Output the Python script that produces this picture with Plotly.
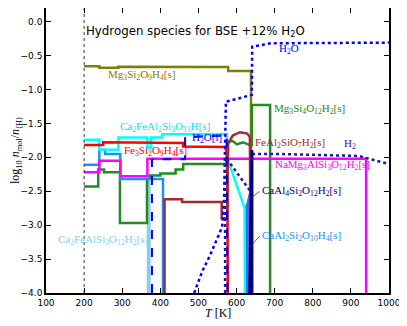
"""
Hydrogen species for BSE +12% H2O, log10 n_mol/n<H> against temperature
"""

import plotly.graph_objects as go

########## Data ##########
olive_T = [200, 240, 240, 290, 290, 365, 365, 578, 578, 638, 638]
olive_v = [-0.66, -0.66, -0.68, -0.68, -0.665, -0.665, -0.67, -0.67, -0.73, -0.73, -4.0]

cyan_T = [200, 240, 240, 290, 290, 366, 366, 376, 376, 405, 405, 574, 576, 621, 622]
cyan_v = [-1.74, -1.74, -1.89, -1.89, -1.71, -1.71, -1.86, -1.86, -1.71, -1.71, -1.66, -1.66, -2.02, -2.75, -4.0]

red_T = [200, 250, 250, 360, 360, 460, 460, 568, 574, 576, 577]
red_v = [-1.82, -1.82, -1.78, -1.78, -1.79, -1.79, -1.84, -1.85, -1.9, -2.3, -4.0]

green_T = [200, 237, 237, 252, 252, 294, 294, 365, 365, 372, 372, 400, 400, 440, 440, 460, 460,
           574, 577, 590, 601, 617, 635, 640, 640, 688, 688]
green_v = [-2.43, -2.43, -2.18, -2.18, -2.22, -2.22, -2.97, -2.97, -2.32, -2.32, -2.27, -2.27, -2.24,
           -2.24, -2.18, -2.18, -2.10, -2.10, -1.77, -1.76, -1.81, -1.78, -1.82, -1.82, -1.23, -1.23, -4.0]

magenta_T = [200, 240, 240, 295, 295, 366, 366, 940, 940]
magenta_v = [-2.22, -2.22, -2.05, -2.05, -2.28, -2.28, -2.02, -2.02, -4.0]

dodger_T = [200, 240, 240, 255, 255, 295, 295, 407, 407]
dodger_v = [-2.11, -2.11, -1.89, -1.89, -1.95, -1.95, -2.32, -2.32, -4.0]

sky_T = [367, 367, 372, 372]
sky_v = [-4.0, -2.36, -2.36, -4.0]

h2ol_T = [378, 378, 465, 465, 574, 576]
h2ol_v = [-4.0, -2.03, -2.03, -1.70, -1.68, -4.0]

brown_T = [411, 411, 457, 457, 561, 561, 575, 576, 578, 590, 609, 628, 635, 637]
brown_v = [-4.0, -2.62, -2.62, -2.66, -2.66, -2.9, -2.9, -2.3, -1.8, -1.68, -1.63, -1.65, -1.7, -4.0]

h2o_T = [489, 510, 530, 550, 562, 567, 570, 572, 600, 640, 641, 660, 690, 1000]
h2o_v = [-4.0, -3.68, -3.45, -3.2, -3.03, -2.7, -1.8, -1.18, -1.14, -1.08, -0.37, -0.35, -0.32, -0.31]

h2_T = [570, 570, 578, 600, 620, 635, 640, 640, 700, 800, 920, 960, 1000]
h2_v = [-4.0, -2.0, -2.05, -2.22, -2.38, -2.49, -2.49, -1.95, -1.95, -1.96, -1.98, -2.04, -2.1]

navy_T = [632, 636, 638, 643, 643]
navy_v = [-4.0, -2.6, -1.9, -1.9, -4.0]

royal_T = [622, 622, 628, 635, 635]
royal_v = [-4.0, -2.76, -2.66, -2.5, -4.0]

# label text, colour, position (T, value)
labels = [
    ("Mg<sub>3</sub>Si<sub>2</sub>O<sub>9</sub>H<sub>4</sub>[s]", "#808000", 257, -0.78),
    ("Ca<sub>2</sub>FeAl<sub>2</sub>Si<sub>3</sub>O<sub>13</sub>H[s]", "#00e8e8", 289, -1.55),
    ("H<sub>2</sub>O[l]", "#0000ff", 478, -1.72),
    ("Fe<sub>3</sub>Si<sub>2</sub>O<sub>9</sub>H<sub>4</sub>[s]", "#ff0000", 300, -1.91),
    ("Mg<sub>3</sub>Si<sub>4</sub>O<sub>12</sub>H<sub>2</sub>[s]", "#228b22", 693, -1.29),
    ("FeAl<sub>2</sub>SiO<sub>7</sub>H<sub>2</sub>[s]", "#a52a2a", 643, -1.79),
    ("H<sub>2</sub>", "#1a1aa8", 877, -1.80),
    ("NaMg<sub>3</sub>AlSi<sub>3</sub>O<sub>12</sub>H<sub>2</sub>[s]", "#ff00ff", 695, -2.12),
    ("H<sub>2</sub>O", "#0000ff", 706, -0.40),
    ("Ca<sub>2</sub>FeAlSi<sub>3</sub>O<sub>12</sub>H<sub>2</sub>[s]", "#87ceeb", 126, -3.22),
]
# labels with a short pointer line: text, colour, target (T, value), text offset in px
pointer_labels = [
    ("CaAl<sub>4</sub>Si<sub>2</sub>O<sub>12</sub>H<sub>2</sub>[s]", "#000080", 634, -2.62, 10, -8),
    ("CaAl<sub>2</sub>Si<sub>2</sub>O<sub>10</sub>H<sub>4</sub>[s]", "#1e90ff", 630, -3.35, 12, -13),
]
#################################################

fig = go.Figure()

def add_line(T, v, color, width=2.5, dash="solid", fill=None):
    fig.add_trace(go.Scatter(x=T, y=v, mode="lines", fill=fill, fillcolor=color,
                             line=dict(color=color, width=width, dash=dash),
                             hoverinfo="skip", showlegend=False))

add_line(royal_T, royal_v, "#4169e1", 1, fill="toself")
add_line(sky_T, sky_v, "#87ceeb", 2, fill="toself")
add_line(olive_T, olive_v, "#808000")
add_line(green_T, green_v, "#228b22")
add_line(dodger_T, dodger_v, "#1e90ff")
add_line(magenta_T, magenta_v, "#ff00ff")
add_line(cyan_T, cyan_v, "#00ffff")
add_line(red_T, red_v, "#ff0000")
add_line(brown_T, brown_v, "#a52a2a")
add_line(h2ol_T, h2ol_v, "#0000ff", 2, dash="dash")
add_line(h2o_T, h2o_v, "#0000ff", 2.5, dash="dot")
add_line(h2_T, h2_v, "#1a1aa8", 2.5, dash="dot")
add_line(navy_T, navy_v, "#000080", 1, fill="toself")

fig.add_vline(x=200, line=dict(color="black", width=0.8, dash="dot"))

SERIF = "Liberation Serif"
for text, color, T, v in labels:
    fig.add_annotation(x=T, y=v, text=text, showarrow=False, xanchor="left", yanchor="middle",
                       font=dict(family=SERIF, size=11, color=color))

for text, color, T, v, ax, ay in pointer_labels:
    fig.add_annotation(x=T, y=v, text=text, showarrow=True, arrowhead=0, arrowwidth=0.8,
                       arrowcolor="#333333", ax=ax, ay=ay, xanchor="left", yanchor="middle",
                       font=dict(family=SERIF, size=11, color=color))

fig.add_annotation(x=200, y=-0.15, text="Hydrogen species for BSE +12% H<sub>2</sub>O",
                   showarrow=False, xanchor="left", yanchor="middle",
                   font=dict(family="DejaVu Sans", size=11.8, color="black"))

# x axis title, placed by hand under the tick labels
fig.add_annotation(x=0.5, y=0, xref="paper", yref="paper", yshift=-20, text="<i>T</i> [K]",
                   showarrow=False, xanchor="center", yanchor="middle",
                   font=dict(family=SERIF, size=12, color="black"))

axis_style = dict(showline=True, linecolor="black", linewidth=1.5, mirror="ticks",
                  ticks="inside", ticklen=5, tickwidth=1, tickcolor="black",
                  showgrid=False, zeroline=False, automargin=False,
                  tickfont=dict(family="DejaVu Sans", size=9, color="black"))

fig.update_xaxes(range=[100, 1000], dtick=100, tick0=100, **axis_style)
fig.update_yaxes(range=[-4, 0.2], dtick=0.5, tick0=0, tickformat=".1f",
                 title=dict(text="log<sub>10</sub> <i>n</i><sub>mol</sub>/<i>n</i><sub>⟨H⟩</sub>",
                            standoff=0, font=dict(family=SERIF, size=12, color="black")),
                 **axis_style)

# the page body adds an 8 px margin, so the margins are shifted by that much
fig.update_layout(width=399, height=318, margin=dict(l=38, r=18, t=0, b=33),
                  plot_bgcolor="white", paper_bgcolor="white")

fig.write_html("out.html")
